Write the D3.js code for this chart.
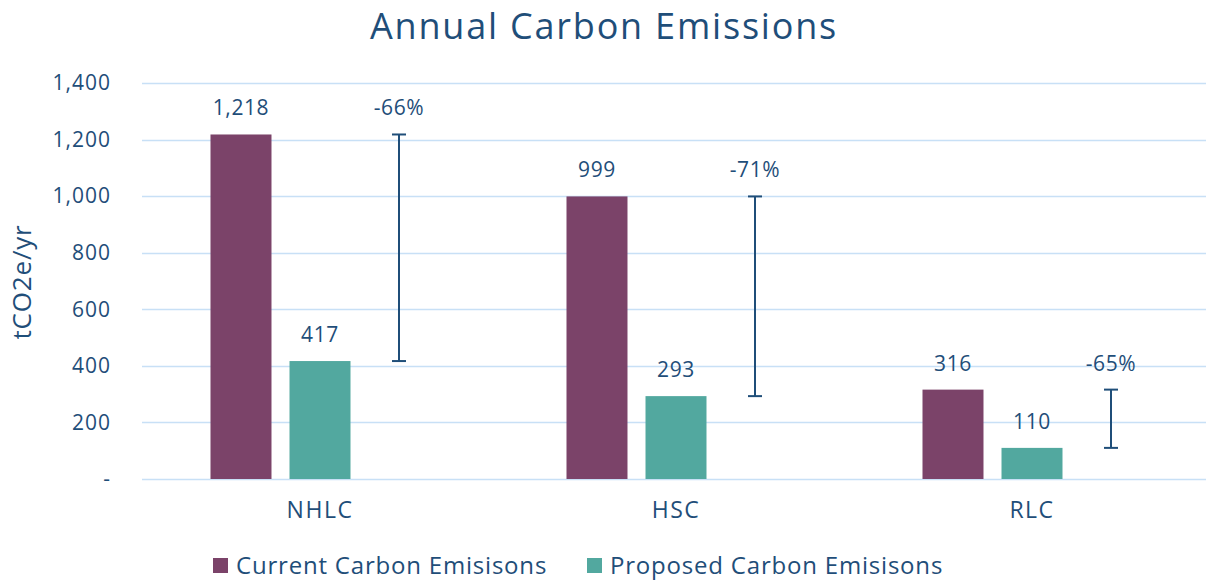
<!DOCTYPE html>
<html>
<head>
<meta charset="utf-8">
<script src="https://cdn.jsdelivr.net/npm/d3@7"></script>
<style>
  body { margin: 0; background: #fff; }
  text { font-family: "Open Sans", Lato, sans-serif; fill: #1f4e79; }
</style>
</head>
<body>
<div id="chart"></div>
<script>
var categories = ["NHLC", "HSC", "RLC"];
var currentValues = [1218, 999, 316];
var proposedValues = [417, 293, 110];
var changeLabels = ["-66%", "-71%", "-65%"];
var yTicks = [0, 200, 400, 600, 800, 1000, 1200, 1400];
var seriesNames = ["Current Carbon Emisisons", "Proposed Carbon Emisisons"];
var seriesColors = ["#7b4369", "#52a89f"];

var width = 1206, height = 581;
var margin = { top: 83, right: -4, bottom: 102, left: 142 };
var innerW = width - margin.left - margin.right;
var innerH = height - margin.top - margin.bottom;

var svg = d3.select("#chart")
	.append("svg")
		.attr("width", width)
		.attr("height", height);

var g = svg.append("g")
	.attr("transform", "translate(" + margin.left + "," + margin.top + ")");

var x = d3.scaleBand()
	.domain(categories)
	.range([0, innerW]);

// three slots per category: current, proposed, change bar
var slot = d3.scaleBand()
	.domain([0, 1, 2])
	.range([0, x.bandwidth()])
	.paddingInner(0.228)
	.paddingOuter(0.867);

var y = d3.scaleLinear()
	.domain([0, 1400])
	.range([innerH, 0]);

// gridlines
g.append("g")
	.selectAll("line")
	.data(yTicks)
	.join("line")
		.attr("x1", 0)
		.attr("x2", innerW)
		.attr("y1", function(d) { return Math.round(y(d)) + 0.5; })
		.attr("y2", function(d) { return Math.round(y(d)) + 0.5; })
		.attr("stroke", "#c8e0f6")
		.attr("stroke-width", 1.5);

// y tick labels
g.append("g")
	.selectAll("text")
	.data(yTicks)
	.join("text")
		.attr("x", -31)
		.attr("y", function(d) { return y(d); })
		.attr("dy", "0.35em")
		.attr("text-anchor", "end")
		.style("font-size", "21px")
		.style("letter-spacing", "1px")
		.text(function(d) { return d === 0 ? "-" : d3.format(",")(d); });

// y axis title
svg.append("text")
	.attr("transform", "translate(31,282) rotate(-90)")
	.attr("text-anchor", "middle")
	.style("font-size", "26px")
	.style("letter-spacing", "0.8px")
	.text("tCO2e/yr");

// title
svg.append("text")
	.attr("x", 604)
	.attr("y", 39)
	.attr("text-anchor", "middle")
	.style("font-size", "36px")
	.style("letter-spacing", "1.8px")
	.text("Annual Carbon Emissions");

var groups = g.selectAll(".cat")
	.data(categories)
	.join("g")
		.attr("class", "cat")
		.attr("transform", function(d) { return "translate(" + x(d) + ",0)"; });

[currentValues, proposedValues].forEach(function(vals, s) {
	groups.append("rect")
		.attr("x", slot(s))
		.attr("width", slot.bandwidth())
		.attr("y", function(d, i) { return y(vals[i]); })
		.attr("height", function(d, i) { return innerH - y(vals[i]); })
		.attr("fill", seriesColors[s]);

	groups.append("text")
		.attr("x", slot(s) + slot.bandwidth() / 2)
		.attr("y", function(d, i) { return y(vals[i]) - 19; })
		.attr("text-anchor", "middle")
		.style("font-size", "21px")
		.style("letter-spacing", "0.6px")
		.text(function(d, i) { return d3.format(",")(vals[i]); });
});

// change bars
var cx = slot(2) + slot.bandwidth() / 2;
var capW = 7;
groups.append("line")
	.attr("x1", cx).attr("x2", cx)
	.attr("y1", function(d, i) { return y(currentValues[i]); })
	.attr("y2", function(d, i) { return y(proposedValues[i]); })
	.attr("stroke", "#1f4e79").attr("stroke-width", 2);
[currentValues, proposedValues].forEach(function(vals) {
	groups.append("line")
		.attr("x1", cx - capW).attr("x2", cx + capW)
		.attr("y1", function(d, i) { return y(vals[i]); })
		.attr("y2", function(d, i) { return y(vals[i]); })
		.attr("stroke", "#1f4e79").attr("stroke-width", 2);
});
groups.append("text")
	.attr("x", cx)
	.attr("y", function(d, i) { return y(currentValues[i]) - 19; })
	.attr("text-anchor", "middle")
	.style("font-size", "21px")
	.style("letter-spacing", "0.6px")
	.text(function(d, i) { return changeLabels[i]; });

// category labels
groups.append("text")
	.attr("x", x.bandwidth() / 2)
	.attr("y", innerH + 39)
	.attr("text-anchor", "middle")
	.style("font-size", "23px")
	.style("letter-spacing", "1.5px")
	.text(function(d) { return d; });

// legend
var legendX = [213, 587];
var legend = svg.append("g")
	.selectAll("g")
	.data(seriesNames)
	.join("g")
		.attr("transform", function(d, i) { return "translate(" + legendX[i] + ",558)"; });
legend.append("rect")
	.attr("width", 15).attr("height", 15)
	.attr("fill", function(d, i) { return seriesColors[i]; });
legend.append("text")
	.attr("x", 23)
	.attr("y", 8)
	.attr("dy", "0.35em")
	.style("font-size", "24px")
	.style("letter-spacing", "0.8px")
	.text(function(d) { return d; });
</script>
</body>
</html>
